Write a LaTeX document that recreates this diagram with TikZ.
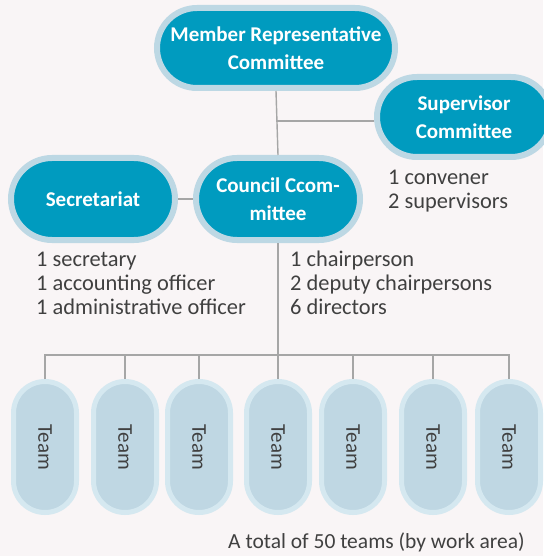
\documentclass[tikz,border=0pt]{standalone}
\usepackage{fontspec}
\setmainfont{Carlito}
\usetikzlibrary{shapes.misc}
\definecolor{paper}{HTML}{F9F5F6}
\definecolor{unitfill}{HTML}{009BBF}
\definecolor{unitrim}{HTML}{BDD8E4}
\definecolor{teamfill}{HTML}{BFD7E3}
\definecolor{teamrim}{HTML}{D5E8F0}
\definecolor{ink}{HTML}{404040}
\definecolor{linkgrey}{HTML}{A6A6A6}
\newcommand{\unitfont}{\fontsize{21}{28}\selectfont\bfseries}
\newcommand{\notefont}{\fontsize{22.4}{24}\selectfont}
\newcommand{\teamfont}{\fontsize{21}{24}\selectfont}

\begin{document}
\begin{tikzpicture}[x=1pt,y=-1pt,
  unit/.style={rounded rectangle, fill=unitfill, draw=unitrim, line width=6pt,
    text=white, font=\unitfont, align=center, inner sep=0pt,
    minimum width=164pt, minimum height=82pt},
  team/.style={rounded rectangle, rotate=-90, fill=teamfill, draw=teamrim,
    line width=5pt, text=ink, font=\teamfont, inner sep=0pt,
    minimum width=131pt, minimum height=63pt},
  note/.style={anchor=base west, align=left, text=ink, font=\notefont, inner sep=0pt},
  link/.style={draw=linkgrey, line width=1.4pt}]
\fill[paper] (0,0) rectangle (543,556);
\useasboundingbox (0,0) rectangle (543,556);

% committees
\node[unit, minimum width=238pt, minimum height=80pt] (mrc) at (276,48)
  {Member Representative\\Committee};
\node[unit, minimum width=174pt, minimum height=80pt] (svc) at (464,117)
  {Supervisor\\Committee};
\node[unit] (sec) at (93,199) {Secretariat};
\node[unit] (ccc) at (278,199) {Council Ccom-\\mittee};

% who sits where (anchored on the last line)
\node[note] (svcinfo) at (388,208) {1 convener\\2 supervisors};
\node[note] (secinfo) at (36,314) {1 secretary\\1 accounting officer\\1 administrative officer};
\node[note] (cccinfo) at (290,314) {1 chairperson\\2 deputy chairpersons\\6 directors};

% teams
\foreach \i/\x in {1/45,2/125,3/199,4/278,5/353,6/433,7/509}
  \node[team] (team\i) at (\x,447) {Team};
\coordinate (bus) at (278,355);

\node[note, font=\fontsize{21.5}{24}\selectfont] (total) at (228,548)
  {A total of 50 teams (by work area)};

% connectors
\draw[link] (mrc.south) -- (ccc.north);
\draw[link] ([yshift=-4pt]svc.west) -- ([yshift=-4pt]svc.west -| mrc.south);
\draw[link] (sec.east) -- (ccc.west);
\draw[link] (ccc.south) -- (team4.west);
\draw[link] (team1.west) -- (team1.west |- bus) -- (team7.west |- bus) -- (team7.west);
\foreach \i in {2,3,5,6}
  \draw[link] (team\i.west |- bus) -- (team\i.west);
\end{tikzpicture}
\end{document}
